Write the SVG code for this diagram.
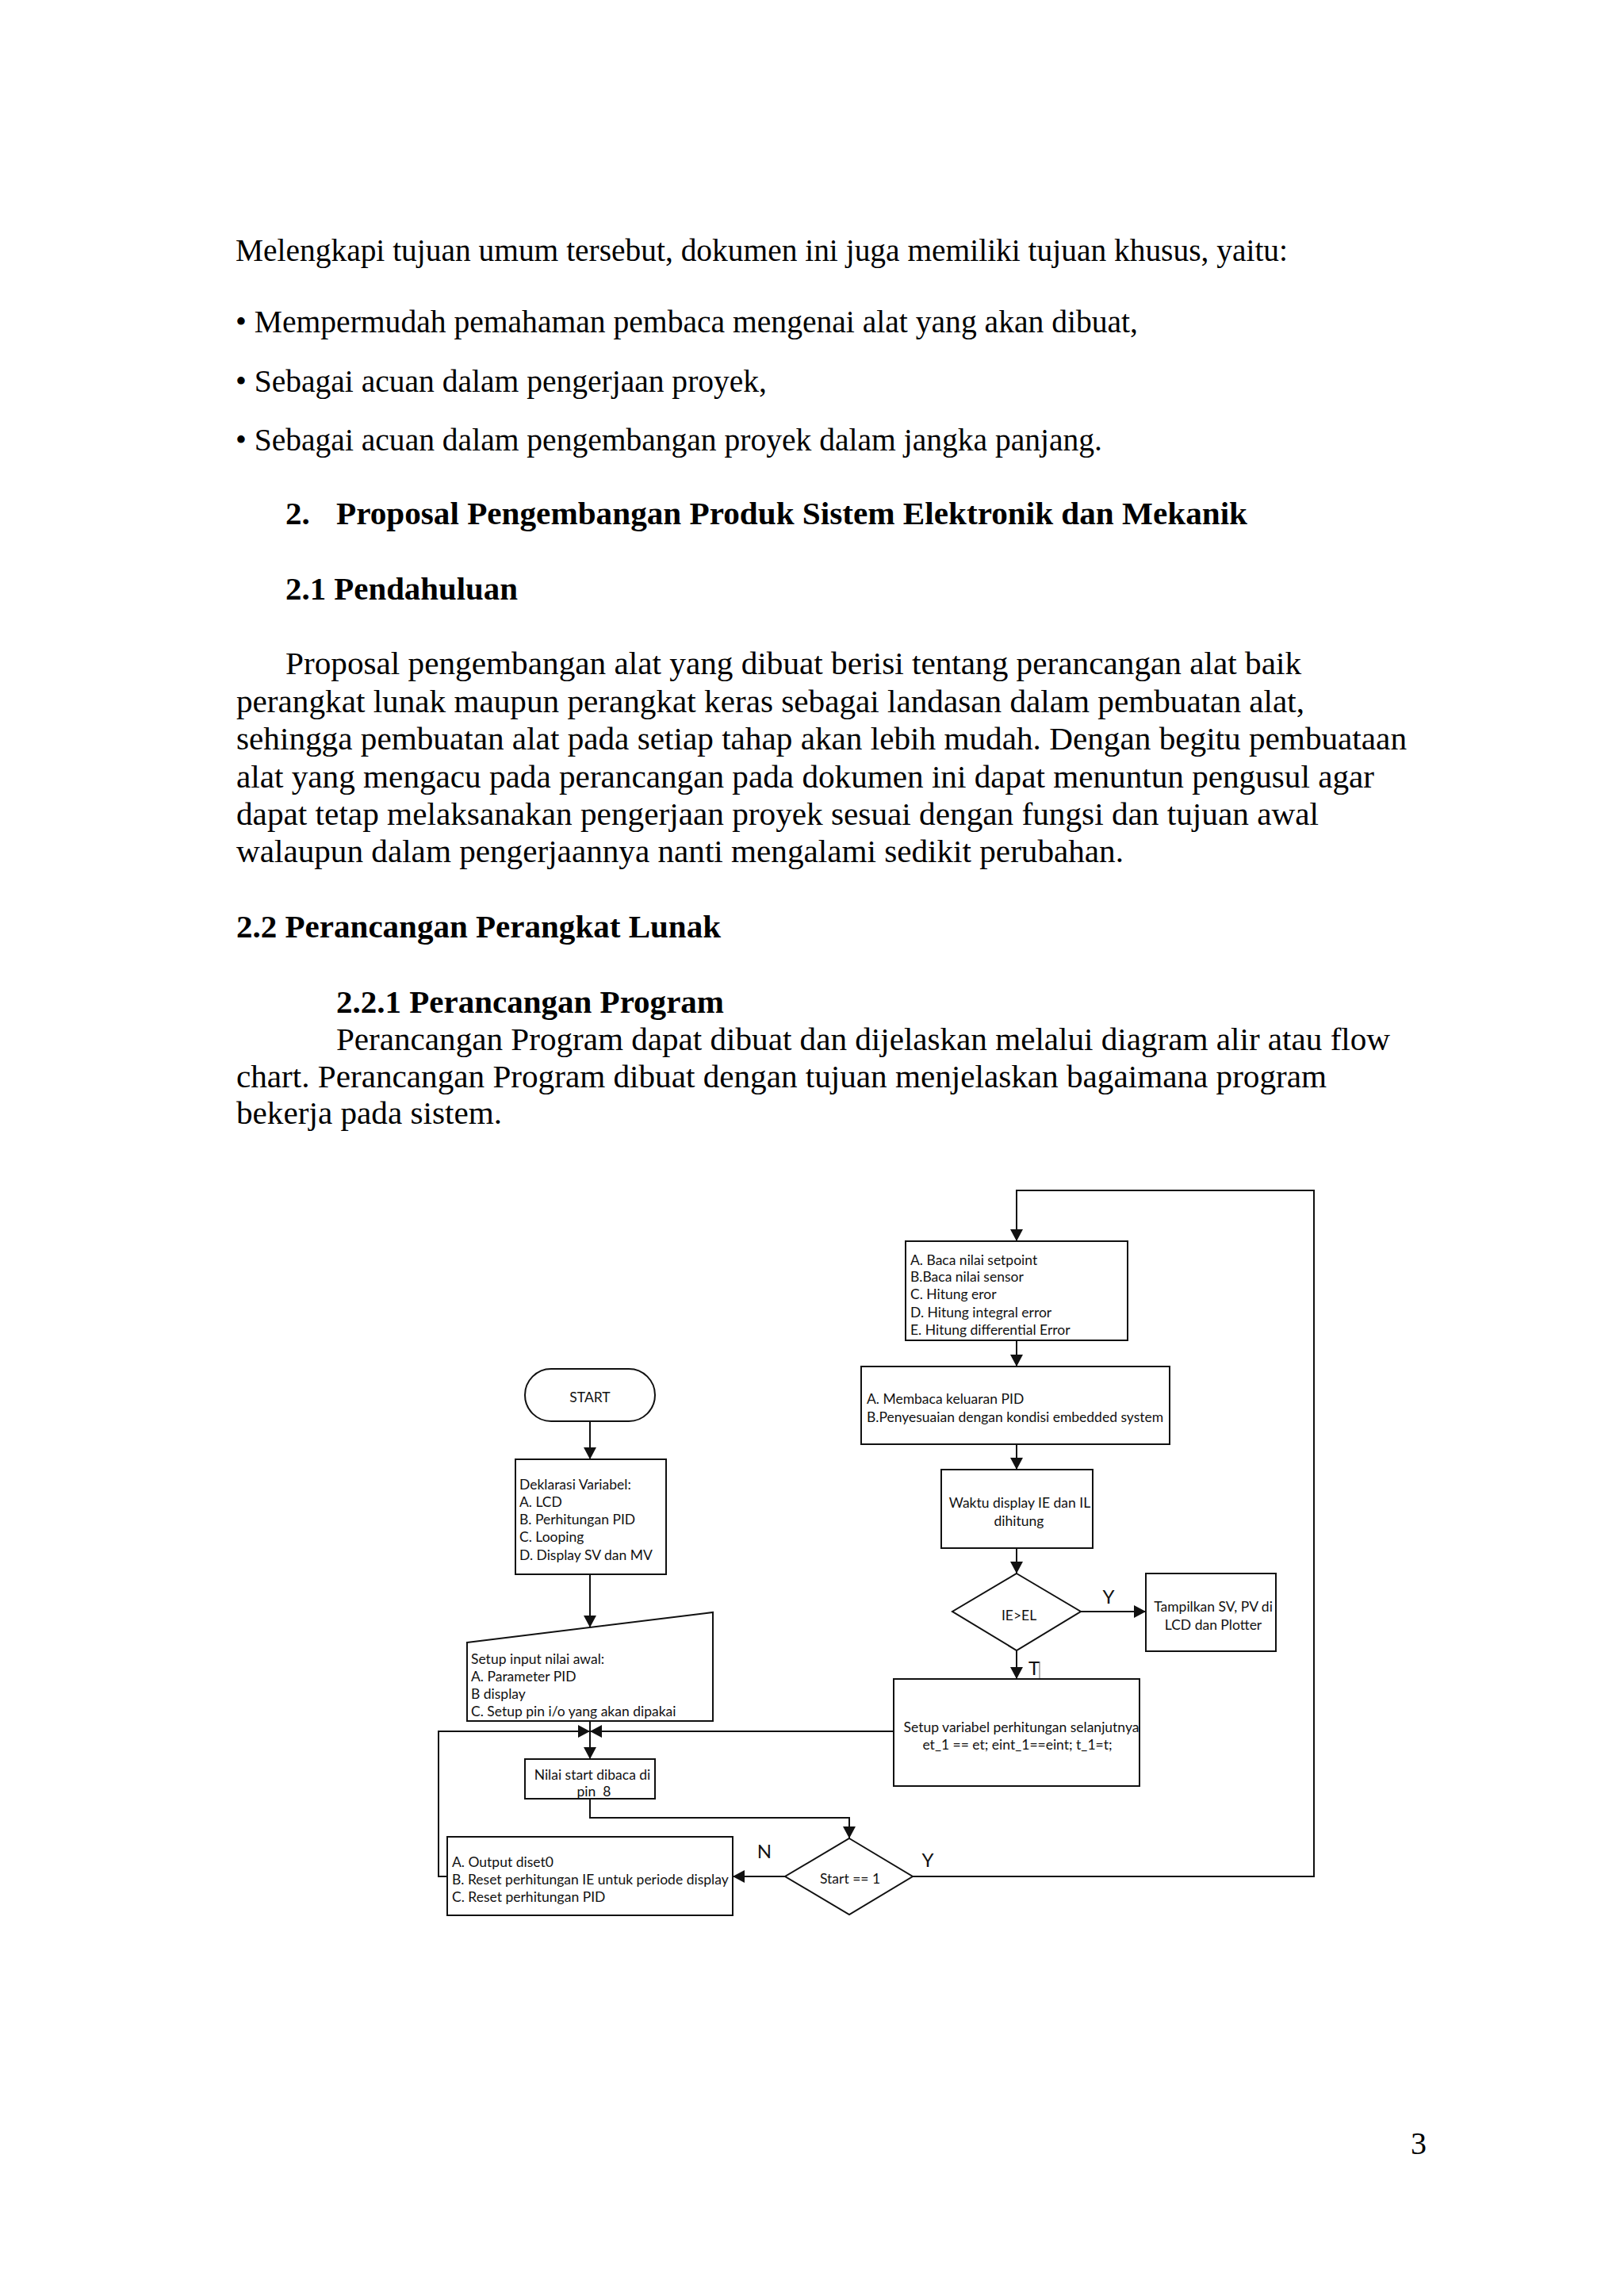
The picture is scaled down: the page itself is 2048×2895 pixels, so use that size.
<svg xmlns="http://www.w3.org/2000/svg" width="2048" height="2895" viewBox="0 0 2048 2895">
<style>
.body{font-family:"Liberation Serif","Times New Roman",serif;font-size:40px;fill:#000}
.bold{font-weight:bold;font-size:41px}
.fc{font-family:Lato,"Open Sans","Liberation Sans",sans-serif;font-size:17.5px;fill:#111}
.lbl{font-family:Lato,"Open Sans","Liberation Sans",sans-serif;font-size:24px;fill:#111}
.shape{fill:#fff;stroke:#111;stroke-width:2}
.conn{fill:none;stroke:#111;stroke-width:2}
</style>
<defs>
<marker id="arr" markerWidth="16" markerHeight="16" refX="15" refY="8" orient="auto" markerUnits="userSpaceOnUse">
<path d="M0,0 L15,8 L0,16 Z" fill="#111"/>
</marker>
</defs>
<rect width="2048" height="2895" fill="#fff"/>
<g id="page-text">
<text class="body" x="297" y="329" textLength="1327" lengthAdjust="spacingAndGlyphs">Melengkapi tujuan umum tersebut, dokumen ini juga memiliki tujuan khusus, yaitu:</text>
<text class="body" x="297" y="419" textLength="1138" lengthAdjust="spacingAndGlyphs">• Mempermudah pemahaman pembaca mengenai alat yang akan dibuat,</text>
<text class="body" x="297" y="494" textLength="670" lengthAdjust="spacingAndGlyphs">• Sebagai acuan dalam pengerjaan proyek,</text>
<text class="body" x="297" y="568" textLength="1093" lengthAdjust="spacingAndGlyphs">• Sebagai acuan dalam pengembangan proyek dalam jangka panjang.</text>
<text class="body bold" x="360" y="661">2.</text>
<text class="body bold" x="424" y="661" textLength="1149" lengthAdjust="spacingAndGlyphs">Proposal Pengembangan Produk Sistem Elektronik dan Mekanik</text>
<text class="body bold" x="360" y="756" textLength="293" lengthAdjust="spacingAndGlyphs">2.1 Pendahuluan</text>
<text class="body" x="360" y="850" textLength="1281" lengthAdjust="spacingAndGlyphs">Proposal pengembangan alat yang dibuat berisi tentang perancangan alat baik</text>
<text class="body" x="298" y="898" textLength="1347" lengthAdjust="spacingAndGlyphs">perangkat lunak maupun perangkat keras sebagai landasan dalam pembuatan alat,</text>
<text class="body" x="298" y="945" textLength="1476" lengthAdjust="spacingAndGlyphs">sehingga pembuatan alat pada setiap tahap akan lebih mudah. Dengan begitu pembuataan</text>
<text class="body" x="298" y="993" textLength="1435" lengthAdjust="spacingAndGlyphs">alat yang mengacu pada perancangan pada dokumen ini dapat menuntun pengusul agar</text>
<text class="body" x="298" y="1040" textLength="1365" lengthAdjust="spacingAndGlyphs">dapat tetap melaksanakan pengerjaan proyek sesuai dengan fungsi dan tujuan awal</text>
<text class="body" x="298" y="1087" textLength="1119" lengthAdjust="spacingAndGlyphs">walaupun dalam pengerjaannya nanti mengalami sedikit perubahan.</text>
<text class="body bold" x="298" y="1182" textLength="611" lengthAdjust="spacingAndGlyphs">2.2 Perancangan Perangkat Lunak</text>
<text class="body bold" x="424" y="1277" textLength="489" lengthAdjust="spacingAndGlyphs">2.2.1 Perancangan Program</text>
<text class="body" x="424" y="1324" textLength="1329" lengthAdjust="spacingAndGlyphs">Perancangan Program dapat dibuat dan dijelaskan melalui diagram alir atau flow</text>
<text class="body" x="298" y="1371" textLength="1375" lengthAdjust="spacingAndGlyphs">chart. Perancangan Program dibuat dengan tujuan menjelaskan bagaimana program</text>
<text class="body" x="298" y="1417" textLength="335" lengthAdjust="spacingAndGlyphs">bekerja pada sistem.</text>
<text class="body" x="1779" y="2716">3</text>
</g>
<g id="connectors">
<path class="conn" d="M744,1792 V1840" marker-end="url(#arr)"/>
<path class="conn" d="M744,1985 V2052" marker-end="url(#arr)"/>
<path class="conn" d="M744,2170 V2218" marker-end="url(#arr)"/>
<path class="conn" d="M564,2366 H553 V2183 H744" marker-end="url(#arr)"/>
<path class="conn" d="M1127,2183 H744" marker-end="url(#arr)"/>
<path class="conn" d="M744,2268 V2292 H1071 V2318" marker-end="url(#arr)"/>
<path class="conn" d="M990,2366 H924" marker-end="url(#arr)"/>
<path class="conn" d="M1151,2366 H1657 V1501 H1282 V1565" marker-end="url(#arr)"/>
<path class="conn" d="M1282,1690 V1723" marker-end="url(#arr)"/>
<path class="conn" d="M1282,1821 V1853" marker-end="url(#arr)"/>
<path class="conn" d="M1282,1952 V1984" marker-end="url(#arr)"/>
<path class="conn" d="M1363,2032 H1445" marker-end="url(#arr)"/>
<path class="conn" d="M1282,2081 V2117" marker-end="url(#arr)"/>
<text class="lbl" x="1398" y="2022" text-anchor="middle">Y</text>
<text class="lbl" x="1304" y="2112" text-anchor="middle">T</text>
<line x1="1311" y1="2095" x2="1311" y2="2122" stroke="#666" stroke-width="1"/>
<text class="lbl" x="964" y="2343" text-anchor="middle">N</text>
<text class="lbl" x="1170" y="2354" text-anchor="middle">Y</text>
</g>
<g id="start">
<rect class="shape" x="662" y="1726" width="164" height="66" rx="33"/>
<text class="fc" x="744" y="1768" text-anchor="middle">START</text>
</g>
<g id="deklarasi">
<rect class="shape" x="650" y="1840" width="190" height="145"/>
<text class="fc" x="655" y="1878">Deklarasi Variabel:</text>
<text class="fc" x="655" y="1900">A. LCD</text>
<text class="fc" x="655" y="1922">B. Perhitungan PID</text>
<text class="fc" x="655" y="1944">C. Looping</text>
<text class="fc" x="655" y="1967">D. Display SV dan MV</text>
</g>
<g id="setup-input">
<path class="shape" d="M589,2071 L899,2033 L899,2170 L589,2170 Z"/>
<text class="fc" x="594" y="2098">Setup input nilai awal:</text>
<text class="fc" x="594" y="2120">A. Parameter PID</text>
<text class="fc" x="594" y="2142">B display</text>
<text class="fc" x="594" y="2164">C. Setup pin i/o yang akan dipakai</text>
</g>
<g id="nilai-start">
<rect class="shape" x="662" y="2218" width="164" height="50"/>
<text class="fc" x="747" y="2244" text-anchor="middle">Nilai start dibaca di</text>
<text class="fc" x="749" y="2265" text-anchor="middle">pin&#160; 8</text>
</g>
<g id="start-check">
<path class="shape" d="M1071,2318 L1151,2366 L1071,2414 L990,2366 Z"/>
<text class="fc" x="1072" y="2375" text-anchor="middle">Start == 1</text>
</g>
<g id="output-reset">
<rect class="shape" x="564" y="2316" width="360" height="99"/>
<text class="fc" x="570" y="2354">A. Output diset0</text>
<text class="fc" x="570" y="2376">B. Reset perhitungan IE untuk periode display</text>
<text class="fc" x="570" y="2398">C. Reset perhitungan PID</text>
</g>
<g id="baca-nilai">
<rect class="shape" x="1142" y="1565" width="280" height="125"/>
<text class="fc" x="1148" y="1595">A. Baca nilai setpoint</text>
<text class="fc" x="1148" y="1616">B.Baca nilai sensor</text>
<text class="fc" x="1148" y="1638">C. Hitung eror</text>
<text class="fc" x="1148" y="1661">D. Hitung integral error</text>
<text class="fc" x="1148" y="1683">E. Hitung differential Error</text>
</g>
<g id="keluaran-pid">
<rect class="shape" x="1086" y="1723" width="389" height="98"/>
<text class="fc" x="1093" y="1770">A. Membaca keluaran PID</text>
<text class="fc" x="1093" y="1793">B.Penyesuaian dengan kondisi embedded system</text>
</g>
<g id="waktu-display">
<rect class="shape" x="1187" y="1853" width="191" height="99"/>
<text class="fc" x="1286" y="1901" text-anchor="middle">Waktu display IE dan IL</text>
<text class="fc" x="1285" y="1924" text-anchor="middle">dihitung</text>
</g>
<g id="ie-el">
<path class="shape" d="M1282,1984 L1363,2032 L1282,2081 L1201,2032 Z"/>
<text class="fc" x="1285" y="2043" text-anchor="middle">IE&gt;EL</text>
</g>
<g id="tampilkan">
<rect class="shape" x="1445" y="1984" width="164" height="98"/>
<text class="fc" x="1530" y="2032" text-anchor="middle">Tampilkan SV, PV di</text>
<text class="fc" x="1530" y="2055" text-anchor="middle">LCD dan Plotter</text>
</g>
<g id="setup-variabel">
<rect class="shape" x="1127" y="2117" width="310" height="135"/>
<text class="fc" x="1288" y="2184" text-anchor="middle">Setup variabel perhitungan selanjutnya</text>
<text class="fc" x="1283" y="2206" text-anchor="middle">et_1 == et; eint_1==eint; t_1=t;</text>
</g>
</svg>
